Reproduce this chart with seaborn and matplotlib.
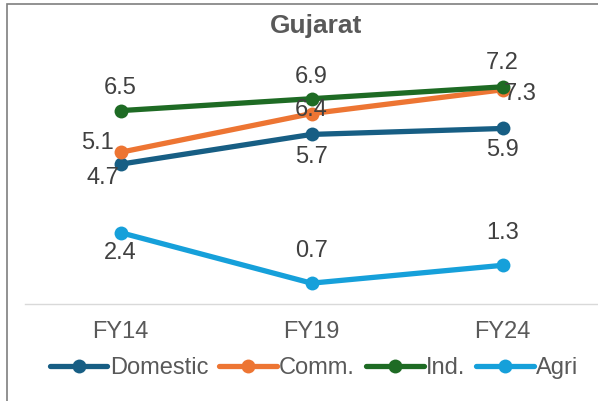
import matplotlib
matplotlib.use("Agg")
import matplotlib.pyplot as plt
from matplotlib.lines import Line2D
from matplotlib.patches import Rectangle
import seaborn as sns
import pandas as pd

years = ["FY14", "FY19", "FY24"]
series = ["Domestic", "Comm.", "Ind.", "Agri"]
domestic = [4.7, 5.7, 5.9]
comm = [5.1, 6.4, 7.2]
ind = [6.5, 6.9, 7.3]
agri = [2.4, 0.7, 1.3]
colors = ["#175E84", "#ED7533", "#1E6B24", "#16A0DA"]

# label offsets in pixels (dx right, dy down) per series / year, as placed in the reference
offsets = {
    "Domestic": [(-18, 14), (0, 23), (0, 22)],
    "Comm.": [(-23, -9), (0, -4), (0, -27)],
    "Ind.": [(0, -23), (0, -22), (18, 7)],
    "Agri": [(0, 20), (0, -32), (0, -32)],
}

values = {"Domestic": domestic, "Comm.": comm, "Ind.": ind, "Agri": agri}
rows = []
for s in series:
    for y, v in zip(years, values[s]):
        rows.append({"year": y, "value": v, "series": s})
df = pd.DataFrame(rows)

sns.set_theme(style="white")
plt.rcParams["font.family"] = ["Liberation Sans", "DejaVu Sans"]

fig = plt.figure(figsize=(5.98, 4.01), dpi=100)
ax = fig.add_axes([25 / 598, 1 - 304 / 401, 1 - 25 / 598, (304 - 66) / 401])

palette = dict(zip(series, colors))
sns.lineplot(data=df, x="year", y="value", hue="series", palette=palette,
             marker="o", markersize=10, markeredgewidth=0, linewidth=3.8,
             legend=False, ax=ax, sort=False)

for s in series:
    for i, v in enumerate(values[s]):
        dx, dy = offsets[s][i]
        ax.annotate(f"{v:.1f}", (i, v), xytext=(dx * 0.72, -dy * 0.72),
                    textcoords="offset points",
                    ha="center", va="center", fontsize=17, color="#404040")

ax.set_xlim(-0.5, 2.5)
ax.set_ylim(0, 8)
ax.set_xlabel("")
ax.set_ylabel("")
ax.set_yticks([])
ax.tick_params(axis="x", length=0, pad=12, labelsize=17, labelcolor="#595959")
for sp in ["top", "right", "left"]:
    ax.spines[sp].set_visible(False)
ax.spines["bottom"].set_color("#D9D9D9")
ax.spines["bottom"].set_linewidth(1)
ax.patch.set_alpha(0)

fig.text(316 / 598, 1 - 26 / 401, "Gujarat", ha="center", va="center",
         fontsize=19, fontweight="bold", color="#595959")

handles = [Line2D([0], [0], color=c, marker="o", markersize=10, markeredgewidth=0,
                  linewidth=3.8) for c in colors]
fig.legend(handles, series, loc="center", bbox_to_anchor=(314 / 598, 1 - 368 / 401),
           ncol=4, frameon=False, fontsize=17, handlelength=2.45, handletextpad=0.1,
           columnspacing=0.45, labelcolor="#595959", borderpad=0, borderaxespad=0)

fig.add_artist(Rectangle((7 / 598, -0.1), 1.2, 1 - 4 / 401 + 0.1,
                         transform=fig.transFigure, fill=False,
                         edgecolor="#7F7F7F", linewidth=1.2))

fig.savefig("out.png", dpi=100)
